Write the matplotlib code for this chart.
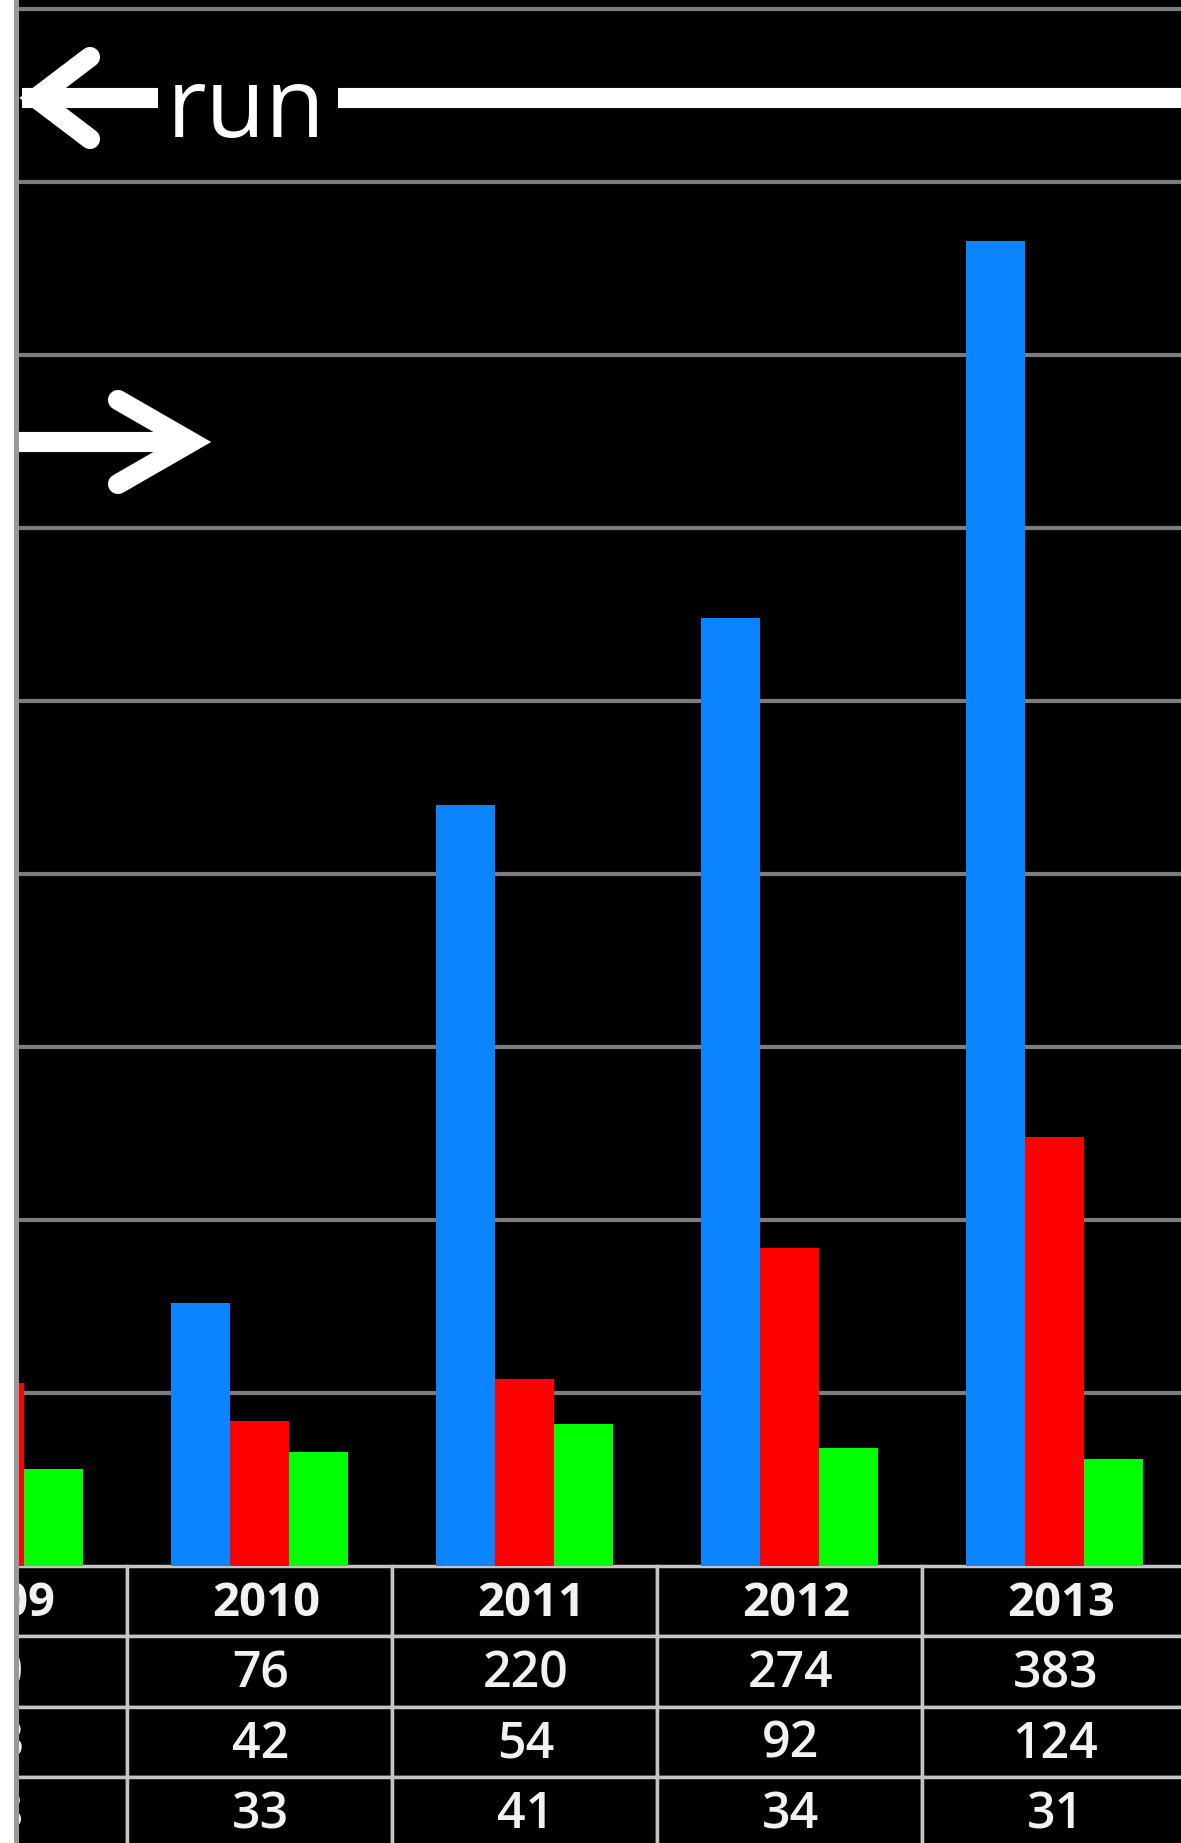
import matplotlib
matplotlib.use("Agg")
import matplotlib.pyplot as plt
from matplotlib.patches import Rectangle
from matplotlib.lines import Line2D
from matplotlib.transforms import Affine2D

# --- data -------------------------------------------------------------
years = ["2009", "2010", "2011", "2012", "2013"]
blue_vals = [60, 76, 220, 274, 383]
red_vals = [53, 42, 54, 92, 124]
green_vals = [28, 33, 41, 34, 31]
grid_ticks = [50, 100, 150, 200, 250, 300, 350, 400, 450]

BLUE = "#0a84ff"
RED = "#ff0000"
GREEN = "#00ff00"

W, H = 1181, 1843
fig = plt.figure(figsize=(W / 100, H / 100), dpi=100, facecolor="black")


def fx(px):
    return px / W


def fy(py_top):
    return 1 - py_top / H


# plot area (extends past the left edge of the canvas)
ax_left, ax_width = -138, 1325
ax_bottom_px, ax_height = 277, 1566
ax = fig.add_axes([fx(ax_left), ax_bottom_px / H, fx(ax_width), ax_height / H])
ax.set_facecolor("black")

n = len(years)
xs = list(range(n))
bw = 0.223
ax.bar([x - bw for x in xs], blue_vals, width=bw, color=BLUE, zorder=3)
ax.bar(xs, red_vals, width=bw, color=RED, zorder=3)
ax.bar([x + bw for x in xs], green_vals, width=bw, color=GREEN, zorder=3)

ax.set_xlim(-0.5, n - 0.5)
ax.set_ylim(0, 452.6)
ax.set_yticks(grid_ticks)
ax.set_xticks([])
ax.tick_params(left=False, labelleft=False, bottom=False, labelbottom=False)
ax.grid(axis="y", color="#7d7d7d", linewidth=3)
ax.set_axisbelow(True)
for s in ax.spines.values():
    s.set_visible(False)

# data table under the bars
rows = [[str(v) for v in blue_vals],
        [str(v) for v in red_vals],
        [str(v) for v in green_vals]]
tbl_h = 4 * 70.3 / ax_height
tbl = ax.table(cellText=rows, colLabels=years, cellLoc="center",
               bbox=[0, -tbl_h, 1, tbl_h])
tbl.auto_set_font_size(False)
head_nudge = Affine2D().translate(7, -2)
body_nudge = Affine2D().translate(1, -3)
for (r, c), cell in tbl.get_celld().items():
    cell.set_facecolor("black")
    cell.set_edgecolor("#c4c4c4")
    cell.set_linewidth(2.5)
    t = cell.get_text()
    t.set_color("#f2f2f2")
    t.set_family(["Open Sans", "DejaVu Sans"])
    if r == 0:
        t.set_transform(head_nudge)
        t.set_fontsize(34)
        t.set_fontweight("bold")
    else:
        t.set_transform(body_nudge)
        t.set_fontsize(36)
        t.set_fontweight("semibold")

# "run" range markers
LW = 14.5
wkw = dict(color="white", linewidth=LW, transform=fig.transFigure)
# left-pointing arrow
fig.add_artist(Line2D([fx(22), fx(158)], [fy(98), fy(98)],
                      solid_capstyle="butt", **wkw))
fig.add_artist(Line2D([fx(90), fx(36), fx(90)], [fy(57), fy(98), fy(139)],
                      solid_capstyle="round", solid_joinstyle="miter", **wkw))
fig.add_artist(Line2D([fx(338), fx(W + 10)], [fy(98), fy(98)],
                      solid_capstyle="butt", **wkw))
fig.text(fx(246), fy(137), "run", color="white", fontsize=70,
         family=["Open Sans", "DejaVu Sans"], ha="center", va="baseline")

# right-pointing arrow
fig.add_artist(Line2D([fx(10), fx(185)], [fy(442), fy(442)],
                      solid_capstyle="butt", **wkw))
fig.add_artist(Line2D([fx(118), fx(191), fx(118)], [fy(400), fy(442), fy(484)],
                      solid_capstyle="round", solid_joinstyle="miter", **wkw))

# page margin strip on the left
fig.add_artist(Rectangle((0, 0), fx(14), 1, transform=fig.transFigure,
                         facecolor="white", edgecolor="none", zorder=5))
fig.add_artist(Rectangle((fx(14), 0), fx(5), 1, transform=fig.transFigure,
                         facecolor="#9a9a9a", edgecolor="none", zorder=5))

fig.savefig("out.png", dpi=100, facecolor="black")
